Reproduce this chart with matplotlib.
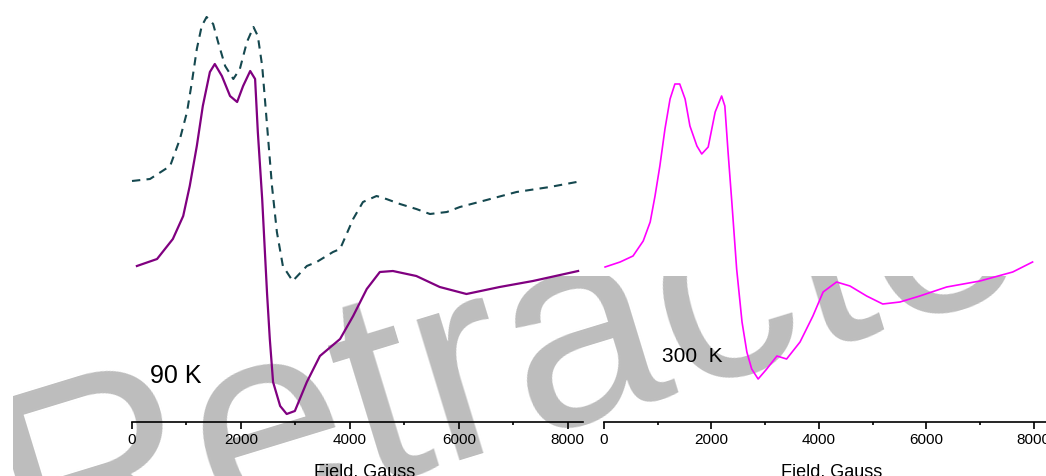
import numpy as np
import matplotlib.pyplot as plt
from matplotlib.ticker import MultipleLocator
from matplotlib.transforms import Bbox, TransformedBbox

plt.rcParams['font.family'] = ['Liberation Sans', 'DejaVu Sans']

# EPR spectra, intensity in arbitrary units
field_90a = [0, 330, 700, 880, 1010, 1100, 1190, 1280, 1370, 1490, 1580, 1710, 1860,
             1980, 2110, 2230, 2310, 2390, 2440, 2500, 2570, 2660, 2770, 2950, 3210,
             3390, 3690, 3820, 4060, 4240, 4490, 4670, 4920, 5220, 5470, 5780, 6020,
             6440, 7060, 7670, 8260]
int_90a = [241, 243, 256, 283, 310, 340, 373, 396, 405, 398, 380, 356, 343,
           353, 380, 395, 386, 356, 323, 283, 236, 190, 156, 141, 156,
           160, 170, 173, 203, 220, 226, 223, 218, 213, 208, 210, 215,
           221, 230, 235, 241]

field_90b = [90, 460, 750, 940, 1060, 1190, 1300, 1430, 1520, 1650, 1800, 1930, 2040,
             2170, 2260, 2310, 2390, 2440, 2480, 2530, 2590, 2720, 2840, 2990, 3210,
             3450, 3820, 4060, 4310, 4550, 4790, 5220, 5650, 6140, 6750, 7360, 8190]
int_90b = [156, 163, 183, 206, 236, 276, 316, 350, 358, 346, 326, 320, 336,
           351, 343, 290, 223, 170, 128, 83, 40, 16, 8, 11, 40,
           66, 83, 106, 133, 150, 151, 146, 135, 128, 135, 141, 151]

field_300 = [20, 300, 540, 730, 860, 950, 1040, 1135, 1230, 1320, 1410, 1510, 1600,
             1730, 1820, 1940, 2070, 2190, 2250, 2310, 2380, 2470, 2570, 2660, 2750,
             2870, 3030, 3220, 3400, 3650, 3890, 4080, 4330, 4580, 4890, 5190, 5510,
             5880, 6380, 7000, 7610, 7980]
int_300 = [155, 160, 166, 181, 200, 226, 256, 293, 323, 338, 338, 323, 296,
           276, 268, 275, 310, 326, 316, 270, 220, 153, 100, 70, 53,
           43, 53, 66, 63, 80, 106, 130, 140, 136, 126, 118, 120,
           126, 135, 141, 150, 160]

fig = plt.figure(figsize=(10.46, 4.77), dpi=100)

# watermark (clipped like in the original)
wm = fig.text(0.024, -0.228, 'Retracted', fontsize=201, color='#bdbdbd', rotation=17,
              rotation_mode='anchor', ha='left', va='baseline', zorder=-1)
wm.set_clip_box(TransformedBbox(Bbox([[13/1046, 0], [1, 200/477]]), fig.transFigure))
wm.set_clip_on(True)

ax1 = fig.add_axes([132/1046, 54/477, 451/1046, 423/477])
ax2 = fig.add_axes([604/1046, 54/477, 442/1046, 423/477])
for ax in (ax1, ax2):
    ax.patch.set_visible(False)
    for s in ('left', 'right', 'top'):
        ax.spines[s].set_visible(False)
    ax.spines['bottom'].set_linewidth(1.2)
    ax.set_yticks([])
    ax.xaxis.set_major_locator(MultipleLocator(2000))
    ax.xaxis.set_minor_locator(MultipleLocator(1000))
    ax.tick_params(axis='x', which='major', length=5, width=1.2, pad=2, labelsize=11)
    ax.tick_params(axis='x', which='minor', length=2.5, width=1.2)
    ax.set_ylim(0, 423)
    ax.set_xlabel('Field, Gauss', fontsize=13)
    ax.xaxis.set_label_coords(0.515, -0.095)

ax1.set_xlim(0, 8280)
ax2.set_xlim(0, 8230)

ax1.plot(field_90a, int_90a, color='#15484f', lw=1.5, ls=(0, (4, 3)), clip_on=False)
ax1.plot(field_90b, int_90b, color='#800080', lw=1.6, clip_on=False)
ax2.plot(field_300, int_300, color='#ff00ff', lw=1.2, clip_on=False)

ax1.text(800, 47, '90 K', fontsize=18, ha='center', va='center')
ax2.text(1640, 67, '300  K', fontsize=15, ha='center', va='center')

fig.savefig('out.png', dpi=100)
